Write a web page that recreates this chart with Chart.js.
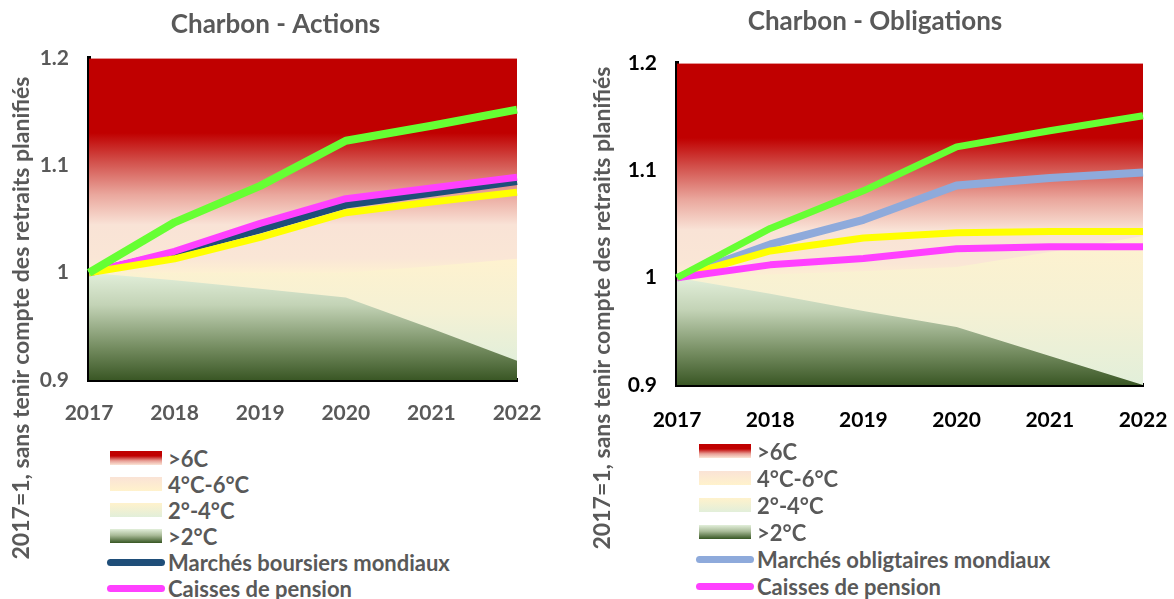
<!DOCTYPE html>
<html>
<head>
<meta charset="utf-8">
<script src="https://cdn.jsdelivr.net/npm/chart.js@4/dist/chart.umd.min.js"></script>
<style>
  body { margin: 0; background: #fff; }
  #wrap { position: relative; width: 1174px; height: 599px; overflow: hidden; font-family: Lato, sans-serif; }
  canvas { position: absolute; top: 0; }
  #cLeft { left: 0; }
  #cRight { left: 580px; }
  .ytitle {
    position: absolute; width: 560px; text-align: center;
    font-weight: bold; font-size: 23px; line-height: 26px; color: #595959;
    transform: rotate(-90deg); transform-origin: 50% 50%; white-space: nowrap;
  }
  .legend { position: absolute; }
  .row { position: absolute; left: 0; height: 26px; display: flex; align-items: center; white-space: nowrap;
         font-weight: bold; font-size: 22px; color: #595959; }
  .sw { width: 52px; height: 14px; margin-left: 3px; margin-right: 6px; }
  .ln { width: 58px; height: 7px; border-radius: 4px; margin-right: 3px; }
</style>
</head>
<body>
<div id="wrap">
  <canvas id="cLeft" width="563" height="440"></canvas>
  <canvas id="cRight" width="611" height="440"></canvas>

  <div class="ytitle" style="left:-260px; top:305px;">2017=1, sans tenir compte des retraits planifiés</div>
  <div class="ytitle" style="left:321px; top:295px;">2017=1, sans tenir compte des retraits planifiés</div>

  <div class="legend" id="legLeft" style="left:107px; top:445px;"></div>
  <div class="legend" id="legRight" style="left:696px; top:438px;"></div>
</div>

<script>
// categories and tick labels
const years = ['2017', '2018', '2019', '2020', '2021', '2022'];
const yTickLabels = ['0.9', '1', '1.1', '1.2'];

// Charbon - Actions
const actMarches = [1.0, 1.019, 1.040, 1.063, 1.074, 1.085];
const actPension = [1.0, 1.020, 1.046, 1.069, 1.079, 1.089];
const actGreen = [1.0, 1.047, 1.081, 1.123, 1.137, 1.152];
const actYellow = [1.0, 1.013, 1.033, 1.056, 1.066, 1.075];
const actBand2C = [1.0, 0.993, 0.985, 0.977, 0.948, 0.918];
const actBand4C = [1.0, 1.0, 1.0, 1.0, 1.006, 1.013];
const actBand6C = [1.045, 1.045, 1.045, 1.045, 1.045, 1.045];
const actBandTop = [1.2, 1.2, 1.2, 1.2, 1.2, 1.2];

// Charbon - Obligations
const oblMarches = [1.0, 1.031, 1.054, 1.086, 1.093, 1.098];
const oblPension = [1.0, 1.012, 1.018, 1.027, 1.029, 1.029];
const oblGreen = [1.0, 1.046, 1.081, 1.122, 1.137, 1.151];
const oblYellow = [1.0, 1.025, 1.037, 1.042, 1.043, 1.043];
const oblBand2C = [1.0, 0.985, 0.969, 0.954, 0.927, 0.9];
const oblBand4C = [1.0, 1.003, 1.006, 1.010, 1.024, 1.039];
const oblBand6C = [1.045, 1.045, 1.045, 1.045, 1.045, 1.045];
const oblBandTop = [1.2, 1.2, 1.2, 1.2, 1.2, 1.2];

const bandNames = ['>6C', '4°C-6°C', '2°-4°C', '>2°C'];

// gradient stops for the bands (top -> bottom)
const redStops = [[0, '#c00000'], [0.45, '#c00000'], [0.62, '#d24f4a'], [0.82, '#eaa79d'], [1, '#f9e2d6']];
const peachStops = [[0, '#f9e3d6'], [0.7, '#fae6d6'], [1, '#fdf0d2']];
const creamStops = [[0, '#fef2cf'], [0.5, '#f5f1d4'], [1, '#e2efda']];
const greenStops = [[0, '#e2efda'], [0.3, '#c3d3b6'], [0.7, '#748c60'], [1, '#3a5725']];

Chart.defaults.font.family = 'Lato';
Chart.defaults.font.weight = 'bold';

function bandGradient(stops, fromVal, toVal) {
  return function(ctx) {
    const chart = ctx.chart;
    if (!chart.chartArea) return stops[0][1];
    const y = chart.scales.y;
    const g = chart.ctx.createLinearGradient(0, y.getPixelForValue(fromVal), 0, y.getPixelForValue(toVal));
    stops.forEach(s => g.addColorStop(s[0], s[1]));
    return g;
  };
}

// each band fills down to the axis; upper bands are drawn first, so no seams
function band(data, bg, order) {
  return { data: data, fill: 'start', backgroundColor: bg, borderWidth: 0, pointRadius: 0, order: order };
}

function line(label, data, color, width, order) {
  return { label: label, data: data, borderColor: color, borderWidth: width, pointRadius: 0,
           fill: false, order: order, borderCapStyle: 'butt', borderJoinStyle: 'round' };
}

function makeChart(id, cfg) {
  const bands = [
    band(cfg.b2C, bandGradient(greenStops, Math.max(...cfg.b2C), 0.9), 10),
    band(cfg.b4C, bandGradient(creamStops, Math.max(...cfg.b4C), Math.min(...cfg.b2C)), 11),
    band(cfg.b6C, bandGradient(peachStops, Math.max(...cfg.b6C), 1.0), 12),
    band(cfg.bTop, bandGradient(redStops, 1.2, Math.min(...cfg.b6C)), 13)
  ];
  return new Chart(document.getElementById(id), {
    type: 'line',
    data: { labels: years, datasets: bands.concat(cfg.lines) },
    options: {
      responsive: false,
      animation: false,
      layout: { padding: { left: cfg.padLeft, right: cfg.padRight, top: 0, bottom: 0 } },
      plugins: {
        legend: { display: false },
        tooltip: { enabled: false },
        title: {
          display: true, text: cfg.title, color: '#595959',
          font: { size: 26, weight: 'bold' },
          padding: cfg.titlePad
        }
      },
      scales: {
        x: {
          offset: false, z: 1,
          grid: { display: false, drawTicks: false },
          border: { display: true, color: '#000', width: 4 },
          ticks: { color: cfg.tickColor, font: { size: 21, weight: 'bold' }, padding: cfg.xPad, maxRotation: 0, autoSkip: false },
          afterFit: s => { s.height = cfg.xHeight; }
        },
        y: {
          min: 0.9, max: 1.2, z: 1,
          grid: { display: false, drawTicks: false },
          border: { display: true, color: '#000', width: 4 },
          ticks: {
            stepSize: 0.1, color: cfg.tickColor, font: { size: 21, weight: 'bold' }, padding: 20,
            callback: v => yTickLabels[Math.round((v - 0.9) * 10)]
          },
          afterFit: s => { s.width = cfg.yWidth; }
        }
      }
    }
  });
}

makeChart('cLeft', {
  title: 'Charbon - Actions',
  titlePad: { top: 9, bottom: 18 },
  tickColor: '#595959',
  padLeft: 34, padRight: 46, yWidth: 55, xHeight: 60, xPad: 21,
  b2C: actBand2C, b4C: actBand4C, b6C: actBand6C, bTop: actBandTop,
  lines: [
    line('green', actGreen, '#66ff33', 8, 0),
    line('yellow', actYellow, '#ffff00', 7, 1),
    line('Caisses de pension', actPension, '#ff40ff', 7, 2),
    line('Marchés boursiers mondiaux', actMarches, '#1f4e79', 7, 3)
  ]
});

makeChart('cRight', {
  title: 'Charbon - Obligations',
  titlePad: { top: 6, bottom: 26 },
  tickColor: '#000000',
  padLeft: 27, padRight: 48, yWidth: 70, xHeight: 55, xPad: 23,
  b2C: oblBand2C, b4C: oblBand4C, b6C: oblBand6C, bTop: oblBandTop,
  lines: [
    line('green', oblGreen, '#66ff33', 7, 0),
    line('Caisses de pension', oblPension, '#ff40ff', 7, 1),
    line('yellow', oblYellow, '#ffff00', 7, 2),
    line('Marchés obligtaires mondiaux', oblMarches, '#8eaadb', 8, 3)
  ]
});

// HTML legends
const swatchCss = [
  'linear-gradient(#c00000 0%, #c00000 35%, #e8a097 70%, #fbe5d6 100%)',
  'linear-gradient(#fae3d6, #fff2cc)',
  'linear-gradient(#fff2cc, #e2efda)',
  'linear-gradient(#e2efda 0%, #a9bb98 45%, #375623 100%)'
];

function buildLegend(el, lineLabels, lineColors, rowGap) {
  let html = '';
  let top = 0;
  bandNames.forEach((name, i) => {
    html += '<div class="row" style="top:' + top + 'px"><div class="sw" style="background:' + swatchCss[i] + '"></div>' + name + '</div>';
    top += rowGap;
  });
  lineLabels.forEach((name, i) => {
    html += '<div class="row" style="top:' + top + 'px"><div class="ln" style="background:' + lineColors[i] + '"></div>' + name + '</div>';
    top += rowGap;
  });
  el.innerHTML = html;
}

buildLegend(document.getElementById('legLeft'), ['Marchés boursiers mondiaux', 'Caisses de pension'], ['#1f4e79', '#ff40ff'], 26);
buildLegend(document.getElementById('legRight'), ['Marchés obligtaires mondiaux', 'Caisses de pension'], ['#8eaadb', '#ff40ff'], 27);
</script>
</body>
</html>
